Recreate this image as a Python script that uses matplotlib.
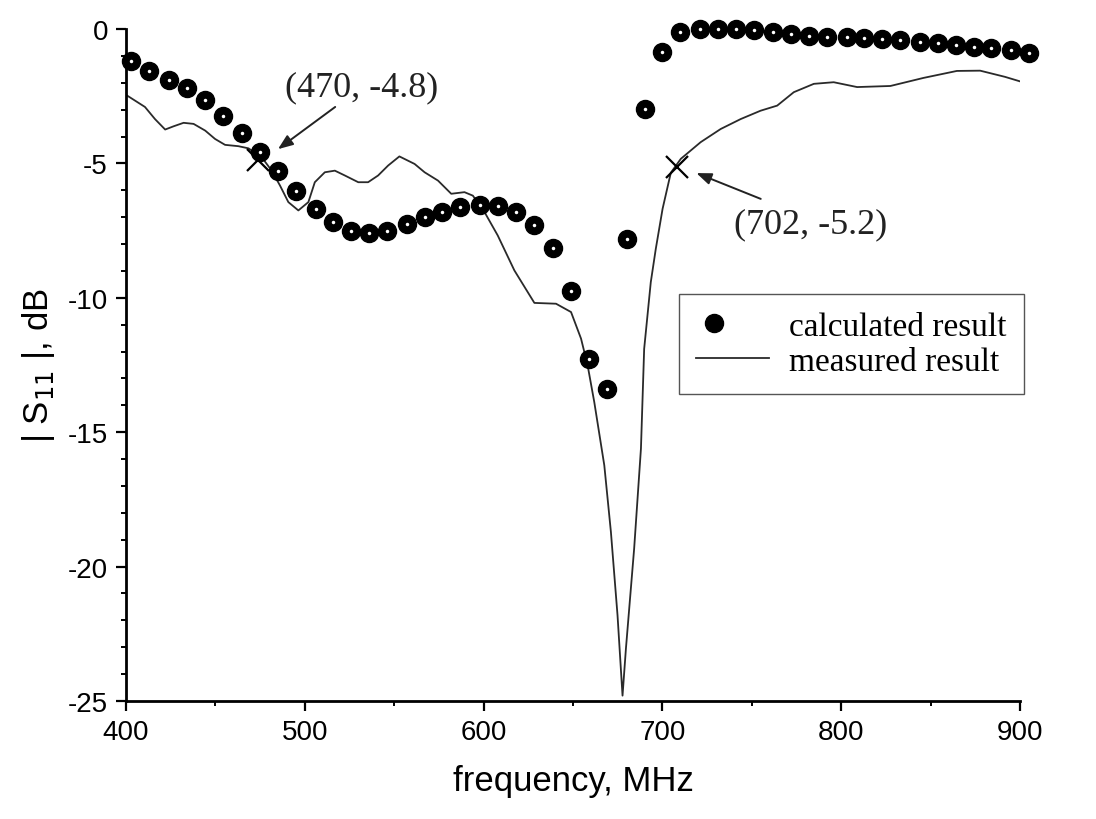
import matplotlib
matplotlib.use("Agg")
import matplotlib.pyplot as plt
from matplotlib.ticker import MultipleLocator
from matplotlib.legend_handler import HandlerTuple
from matplotlib.lines import Line2D

plt.rcParams["axes.unicode_minus"] = False

# calculated result (markers)
calc_freq = [403, 413, 424, 434, 444, 454, 465, 475, 485, 495,
             506, 516, 526, 536, 546, 557, 567, 577, 587, 598,
             608, 618, 628, 639, 649, 659, 669, 680, 690, 700,
             710, 721, 731, 741, 751, 762, 772, 782, 792, 803,
             813, 823, 833, 844, 854, 864, 874, 884, 895, 905]
calc_s11 = [-1.20, -1.55, -1.89, -2.21, -2.63, -3.22, -3.88, -4.58, -5.30, -6.03,
            -6.69, -7.19, -7.50, -7.58, -7.50, -7.25, -7.00, -6.79, -6.63, -6.54,
            -6.59, -6.79, -7.29, -8.15, -9.73, -12.27, -13.38, -7.80, -2.97, -0.87,
            -0.10, 0.00, 0.00, 0.00, -0.05, -0.10, -0.19, -0.25, -0.29, -0.30,
            -0.33, -0.37, -0.41, -0.47, -0.53, -0.59, -0.66, -0.71, -0.77, -0.90]

# measured result (line)
meas_freq = [400, 410.6, 416.2, 421.9, 426.6, 432.2, 437.8, 444.3, 449.8, 455.4,
             462.9, 468.5, 475.9, 481.5, 486.1, 490.8, 496.4, 502.0, 505.6, 511.2,
             516.8, 522.4, 529.9, 535.4, 541.0, 546.6, 552.9, 561.4, 567.0, 574.5,
             581.9, 589.3, 594.0, 600.5, 607.9, 617.2, 628.4, 640.5, 648.9, 654.5,
             658.2, 661.9, 667.5, 671.2, 674.9, 677.7, 679.6, 684.2, 688.0, 689.8,
             693.5, 696.3, 700.1, 704.7, 710.3, 721.4, 732.6, 743.8, 754.9, 764.2,
             773.5, 784.7, 795.8, 808.9, 827.5, 846.0, 864.7, 877.7, 891.6, 901.1]
meas_s11 = [-2.45, -2.90, -3.35, -3.74, -3.62, -3.49, -3.53, -3.78, -4.09, -4.31,
            -4.36, -4.44, -4.77, -5.27, -5.82, -6.44, -6.75, -6.44, -5.70, -5.33,
            -5.27, -5.45, -5.70, -5.70, -5.45, -5.08, -4.74, -5.02, -5.33, -5.64,
            -6.13, -6.07, -6.20, -6.81, -7.68, -8.98, -10.19, -10.22, -10.53, -11.52,
            -12.52, -13.88, -16.23, -18.71, -21.81, -24.80, -23.05, -19.33, -15.61, -11.90,
            -9.42, -8.18, -6.69, -5.35, -4.83, -4.21, -3.72, -3.35, -3.04, -2.85,
            -2.35, -2.04, -1.98, -2.16, -2.12, -1.82, -1.56, -1.55, -1.78, -1.97]

# annotations
mark_freq = [474, 708]
mark_s11 = [-4.87, -5.15]
labels = ["(470, -4.8)", "(702, -5.2)"]
label_pos = [(532, -2.16), (783, -7.25)]
arrow_tail = [(517, -2.90), (755, -6.32)]
arrow_head = [(485, -4.47), (719, -5.36)]

SANS = ["Liberation Sans", "DejaVu Sans"]
SERIF = ["Liberation Serif", "DejaVu Serif"]

fig = plt.figure(figsize=(10.96, 8.2), dpi=100)
ax = fig.add_axes([126 / 1096, 1 - 702 / 820, 894 / 1096, 672 / 820])

ax.plot(meas_freq, meas_s11, color="#2a2a2a", lw=1.3, zorder=2)
ax.plot(calc_freq, calc_s11, ls="none", marker="o", ms=13, mfc="black",
        mec="black", zorder=3, clip_on=False)
ax.plot(calc_freq, calc_s11, ls="none", marker="o", ms=2.5, mfc="white",
        mec="none", zorder=4, clip_on=False)

ax.plot(mark_freq, mark_s11, ls="none", marker="x", ms=16, mew=1.6,
        color="black", zorder=5)

for lab, (tx, ty), tail, head in zip(labels, label_pos, arrow_tail, arrow_head):
    ax.text(tx, ty, lab, fontsize=26, family=SERIF, ha="center", va="center",
            color="#222222")
    ax.annotate("", xy=head, xytext=tail,
                arrowprops=dict(arrowstyle="-|>,head_length=0.9,head_width=0.35",
                                color="#222222", lw=1.4, shrinkA=0, shrinkB=0))

ax.set_xlim(400, 900)
ax.set_ylim(-25, 0)
ax.xaxis.set_major_locator(MultipleLocator(100))
ax.xaxis.set_minor_locator(MultipleLocator(50))
ax.yaxis.set_major_locator(MultipleLocator(5))
ax.yaxis.set_minor_locator(MultipleLocator(1))

for s in ["top", "right"]:
    ax.spines[s].set_visible(False)
for s in ["left", "bottom"]:
    ax.spines[s].set_linewidth(2.0)
    ax.spines[s].set_color("black")

ax.tick_params(which="major", direction="out", length=7, width=1.6,
               labelsize=20, pad=6)
ax.tick_params(which="minor", direction="out", length=3.5, width=1.4)
for lab in ax.get_xticklabels() + ax.get_yticklabels():
    lab.set_family(SANS)

ax.set_xlabel("frequency, MHz", fontsize=25, family=SANS, labelpad=14)
ax.set_ylabel("| S$_{11}$ |, dB", fontsize=25, family=SANS, labelpad=8)

h_calc = (Line2D([], [], ls="none", marker="o", ms=13, mfc="black", mec="black"),
          Line2D([], [], ls="none", marker="o", ms=2.5, mfc="white", mec="none"))
h_meas = Line2D([], [], color="#2a2a2a", lw=1.3)
leg = ax.legend([h_calc, h_meas], ["calculated result", "measured result"],
                handler_map={tuple: HandlerTuple(ndivide=None, pad=0)},
                loc="upper right", bbox_to_anchor=(1.004, 0.605),
                prop={"family": SERIF, "size": 24}, fancybox=False,
                edgecolor="#555555", framealpha=1, handlelength=2.2,
                handletextpad=0.6, borderpad=0.5, labelspacing=0.15,
                borderaxespad=0)
leg.get_frame().set_linewidth(1.0)

fig.savefig("out.png", dpi=100)
